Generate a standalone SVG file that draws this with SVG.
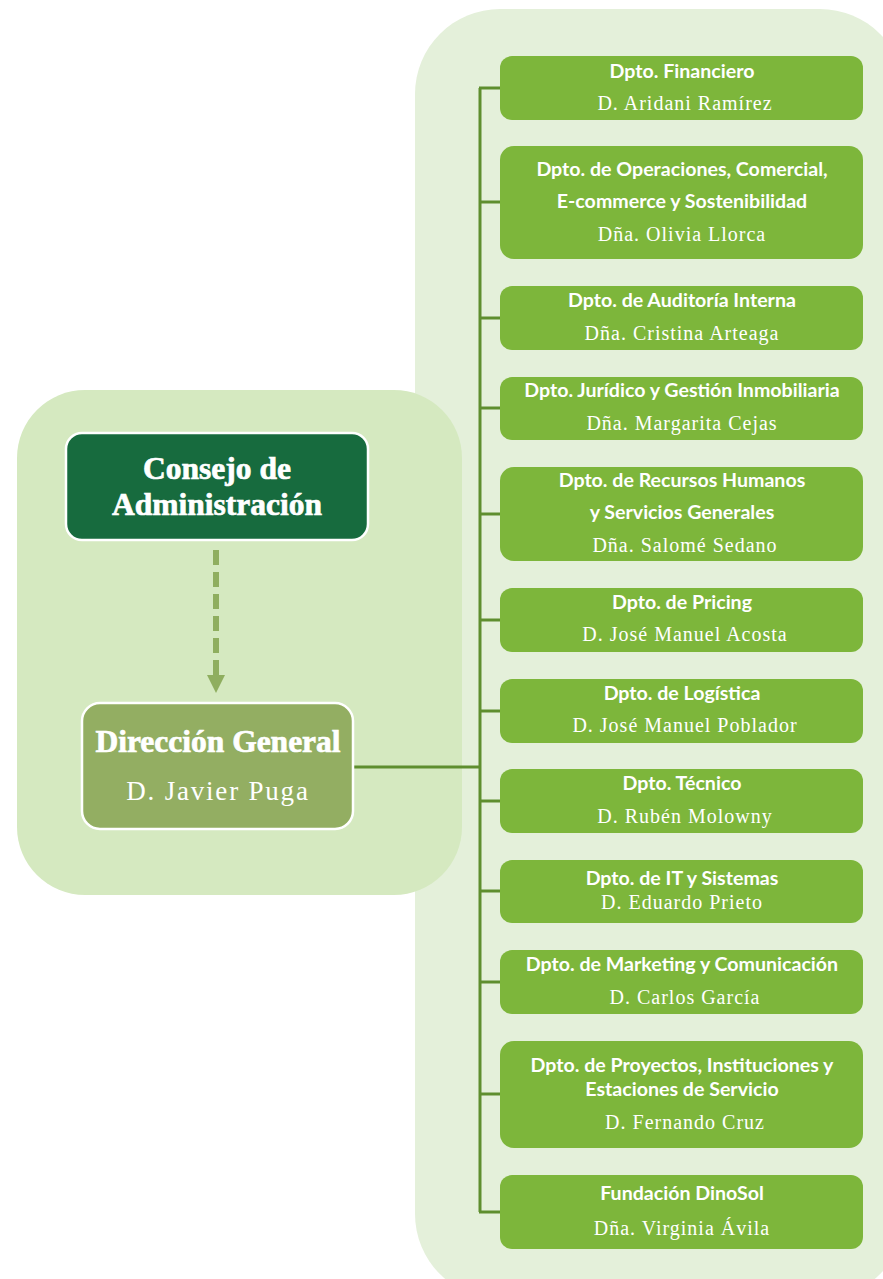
<svg xmlns="http://www.w3.org/2000/svg" width="883" height="1279" viewBox="0 0 883 1279">
<defs>
<style>
.panelR{fill:#e4f0da}
.panelL{fill:#d5e9c0}
.dept{fill:#7db63b}
.t{font-family:Lato,"Open Sans","Liberation Sans",sans-serif;font-weight:bold;font-size:19.6px;fill:#fff;text-anchor:middle}
.n{font-family:"Liberation Serif","DejaVu Serif",serif;font-size:20px;letter-spacing:1px;fill:#fff;text-anchor:middle}
.big{font-family:"Liberation Serif",serif;font-weight:bold;font-size:31.5px;fill:#fff;stroke:#fff;stroke-width:0.7;text-anchor:middle}
.link{stroke:#5e8e2e;stroke-width:3;fill:none}
</style>
</defs>
<rect width="883" height="1279" fill="#fff"/>
<rect class="panelR" x="415" y="9" width="490" height="1290" rx="85"/>
<rect class="panelL" x="17" y="390" width="445" height="505" rx="68"/>

<g id="connectors">
<path d="M216,550 L216,676" stroke="#8fae5f" stroke-width="6" stroke-dasharray="15,7" fill="none"/>
<path d="M207,675 L225,675 L216,693 z" fill="#8fae5f"/>
<path class="link" d="M354,767 L480,767"/>
<path class="link" d="M480,88 L480,1212"/>
<path class="link" d="M479,88 L500,88 M479,202 L500,202 M479,318 L500,318 M479,408 L500,408 M479,514 L500,514 M479,620 L500,620 M479,711 L500,711 M479,801 L500,801 M479,891 L500,891 M479,982 L500,982 M479,1094 L500,1094 M479,1212 L500,1212"/>
</g>

<g id="consejo">
<rect x="66" y="433" width="302" height="107" rx="16" fill="#176b3e" stroke="#fff" stroke-width="2.5"/>
<text class="big" x="217" y="479" font-size="33">Consejo de</text>
<text class="big" x="217" y="515" font-size="33">Administración</text>
</g>
<g id="direccion">
<rect x="82" y="703" width="271" height="126" rx="18" fill="#93ae62" stroke="#fff" stroke-width="2.5"/>
<text class="big" x="218" y="752">Dirección General</text>
<text x="218" y="800" font-family="Liberation Serif,serif" font-size="27" letter-spacing="1.8" fill="#fff" text-anchor="middle">D. Javier Puga</text>
</g>

<g id="d1"><rect class="dept" x="500" y="56" width="363" height="64" rx="12"/>
<text class="t" x="682" y="78">Dpto. Financiero</text><text class="n" x="685" y="110">D. Aridani Ramírez</text></g>
<g id="d2"><rect class="dept" x="500" y="146" width="363" height="113" rx="14"/>
<text class="t" x="682" y="176">Dpto. de Operaciones, Comercial,</text><text class="t" x="682" y="208">E-commerce y Sostenibilidad</text><text class="n" x="682" y="241">Dña. Olivia Llorca</text></g>
<g id="d3"><rect class="dept" x="500" y="286" width="363" height="64" rx="12"/>
<text class="t" x="682" y="307">Dpto. de Auditoría Interna</text><text class="n" x="682" y="340">Dña. Cristina Arteaga</text></g>
<g id="d4"><rect class="dept" x="500" y="377" width="363" height="63" rx="12"/>
<text class="t" x="682" y="397">Dpto. Jurídico y Gestión Inmobiliaria</text><text class="n" x="682" y="430">Dña. Margarita Cejas</text></g>
<g id="d5"><rect class="dept" x="500" y="467" width="363" height="94" rx="14"/>
<text class="t" x="682" y="487">Dpto. de Recursos Humanos</text><text class="t" x="682" y="519">y Servicios Generales</text><text class="n" x="685" y="552">Dña. Salomé Sedano</text></g>
<g id="d6"><rect class="dept" x="500" y="588" width="363" height="64" rx="12"/>
<text class="t" x="682" y="609">Dpto. de Pricing</text><text class="n" x="685" y="641">D. José Manuel Acosta</text></g>
<g id="d7"><rect class="dept" x="500" y="679" width="363" height="64" rx="12"/>
<text class="t" x="682" y="700">Dpto. de Logística</text><text class="n" x="685" y="732">D. José Manuel Poblador</text></g>
<g id="d8"><rect class="dept" x="500" y="769" width="363" height="64" rx="12"/>
<text class="t" x="682" y="790">Dpto. Técnico</text><text class="n" x="685" y="823">D. Rubén Molowny</text></g>
<g id="d9"><rect class="dept" x="500" y="860" width="363" height="63" rx="12"/>
<text class="t" x="682" y="885">Dpto. de IT y Sistemas</text><text class="n" x="682" y="909">D. Eduardo Prieto</text></g>
<g id="d10"><rect class="dept" x="500" y="950" width="363" height="64" rx="12"/>
<text class="t" x="682" y="971">Dpto. de Marketing y Comunicación</text><text class="n" x="685" y="1004">D. Carlos García</text></g>
<g id="d11"><rect class="dept" x="500" y="1041" width="363" height="107" rx="14"/>
<text class="t" x="682" y="1072">Dpto. de Proyectos, Instituciones y</text><text class="t" x="682" y="1096">Estaciones de Servicio</text><text class="n" x="685" y="1129">D. Fernando Cruz</text></g>
<g id="d12"><rect class="dept" x="500" y="1175" width="363" height="74" rx="12"/>
<text class="t" x="682" y="1200">Fundación DinoSol</text><text class="n" x="682" y="1235">Dña. Virginia Ávila</text></g>
</svg>
